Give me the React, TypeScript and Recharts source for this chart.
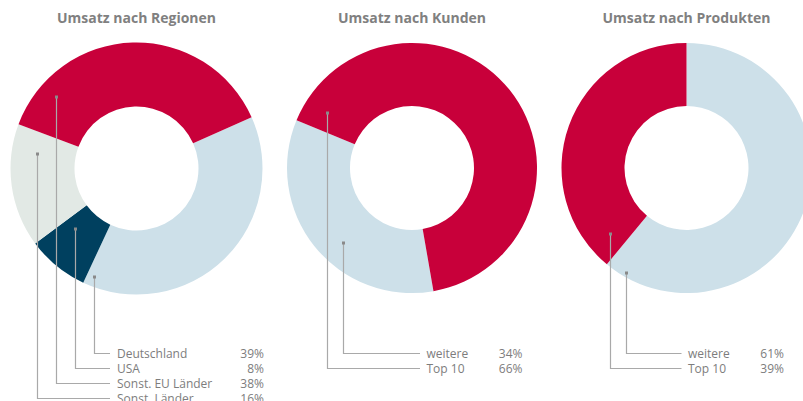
import { PieChart, Pie, Cell } from 'recharts'

// chart values
const REGION_NAMES = ['Deutschland', 'USA', 'Sonst. EU Länder', 'Sonst. Länder']
const REGION_VALUES = [39, 8, 38, 16]
const CUSTOMER_NAMES = ['weitere', 'Top 10']
const CUSTOMER_VALUES = [34, 66]
const PRODUCT_NAMES = ['weitere', 'Top 10']
const PRODUCT_VALUES = [61, 39]

const RED = '#c8003a'
const LIGHT_BLUE = '#cde0e9'
const DARK_BLUE = '#00405f'
const LIGHT_GRAY = '#e2e9e5'
const TEXT = '#7d7d7d'
const LEADER = '#a9a9a9'
const FONT = '"Open Sans", "Noto Sans", sans-serif'

const W = 803
const H = 401
const ROW_Y = 353
const ROW_STEP = 15

interface Marker {
  angle: number // clockwise from 12 o'clock
  r: number
}

interface DonutConfig {
  title: string
  names: string[]
  values: number[]
  colors: string[]
  drawOrder: number[] // clockwise order of legend indices
  cx: number
  cy: number
  inner: number
  outer: number
  start: number // compass angle of first slice start
  markers: Marker[]
  lineEnd: number
  textX: number
  pctX: number
}

const DONUTS: DonutConfig[] = [
  {
    title: 'Umsatz nach Regionen',
    names: REGION_NAMES,
    values: REGION_VALUES,
    colors: [LIGHT_BLUE, DARK_BLUE, RED, LIGHT_GRAY],
    drawOrder: [0, 1, 3, 2],
    cx: 136.5,
    cy: 168.5,
    inner: 62,
    outer: 126,
    start: 66,
    markers: [
      { angle: 201.4, r: 116.5 },
      { angle: 225.5, r: 86.3 },
      { angle: 311.7, r: 107.4 },
      { angle: 278.3, r: 100.5 },
    ],
    lineEnd: 110,
    textX: 117,
    pctX: 264,
  },
  {
    title: 'Umsatz nach Kunden',
    names: CUSTOMER_NAMES,
    values: CUSTOMER_VALUES,
    colors: [LIGHT_BLUE, RED],
    drawOrder: [0, 1],
    cx: 412,
    cy: 168,
    inner: 62,
    outer: 125,
    start: 170.1,
    markers: [
      { angle: 222.4, r: 101.9 },
      { angle: 302.9, r: 100.8 },
    ],
    lineEnd: 420,
    textX: 426.5,
    pctX: 522.5,
  },
  {
    title: 'Umsatz nach Produkten',
    names: PRODUCT_NAMES,
    values: PRODUCT_VALUES,
    colors: [LIGHT_BLUE, RED],
    drawOrder: [0, 1],
    cx: 686.5,
    cy: 168,
    inner: 62,
    outer: 125,
    start: 0,
    markers: [
      { angle: 209.8, r: 121.3 },
      { angle: 229, r: 101 },
    ],
    lineEnd: 681.5,
    textX: 688,
    pctX: 784,
  },
]

function renderLeader(cfg: DonutConfig) {
  return (props: any) => {
    const row: number = props.payload?.row ?? props.row
    const cx = Number(props.cx)
    const cy = Number(props.cy)
    const m = cfg.markers[row]
    const rad = (m.angle * Math.PI) / 180
    const mx = Math.round(cx + m.r * Math.sin(rad)) + 0.5
    const my = Math.round(cy - m.r * Math.cos(rad))
    const ly = ROW_Y + row * ROW_STEP + 0.5
    return (
      <g key={`leader-${row}`}>
        <polyline
          points={`${mx},${my} ${mx},${ly} ${cfg.lineEnd},${ly}`}
          fill="none"
          stroke={LEADER}
          strokeWidth={1.2}
        />
        <rect x={mx - 1.5} y={my - 1.5} width={3} height={3} fill="#8a8a8a" />
        <text x={cfg.textX} y={ly + 4.5} fill={TEXT} fontSize={12} fontFamily={FONT}>
          {cfg.names[row]}
        </text>
        <text
          x={cfg.pctX}
          y={ly + 4.5}
          fill={TEXT}
          fontSize={12}
          fontFamily={FONT}
          textAnchor="end"
        >
          {cfg.values[row]}%
        </text>
      </g>
    )
  }
}

export default function App() {
  return (
    <div
      style={{
        position: 'absolute',
        left: 0,
        top: 0,
        width: W,
        height: H,
        overflow: 'hidden',
        background: '#fff',
      }}
    >
      <PieChart width={W} height={H} margin={{ top: 0, right: 0, bottom: 0, left: 0 }}>
        {DONUTS.map((cfg) => {
          const data = cfg.drawOrder.map((row) => ({
            name: cfg.names[row],
            value: cfg.values[row],
            row,
          }))
          const startAngle = 90 - cfg.start
          return (
            <Pie
              key={cfg.title}
              data={data}
              dataKey="value"
              nameKey="name"
              cx={cfg.cx}
              cy={cfg.cy}
              innerRadius={cfg.inner}
              outerRadius={cfg.outer}
              startAngle={startAngle}
              endAngle={startAngle - 360}
              stroke="none"
              label={renderLeader(cfg)}
              labelLine={false}
              isAnimationActive={false}
            >
              {data.map((d) => (
                <Cell key={d.name} fill={cfg.colors[d.row]} />
              ))}
            </Pie>
          )
        })}
      </PieChart>
      {DONUTS.map((cfg) => (
        <div
          key={cfg.title}
          style={{
            position: 'absolute',
            left: cfg.cx - 120,
            width: 240,
            top: 8,
            textAlign: 'center',
            fontFamily: FONT,
            fontWeight: 700,
            fontSize: 14,
            color: '#808080',
            lineHeight: '20px',
          }}
        >
          {cfg.title}
        </div>
      ))}
    </div>
  )
}
